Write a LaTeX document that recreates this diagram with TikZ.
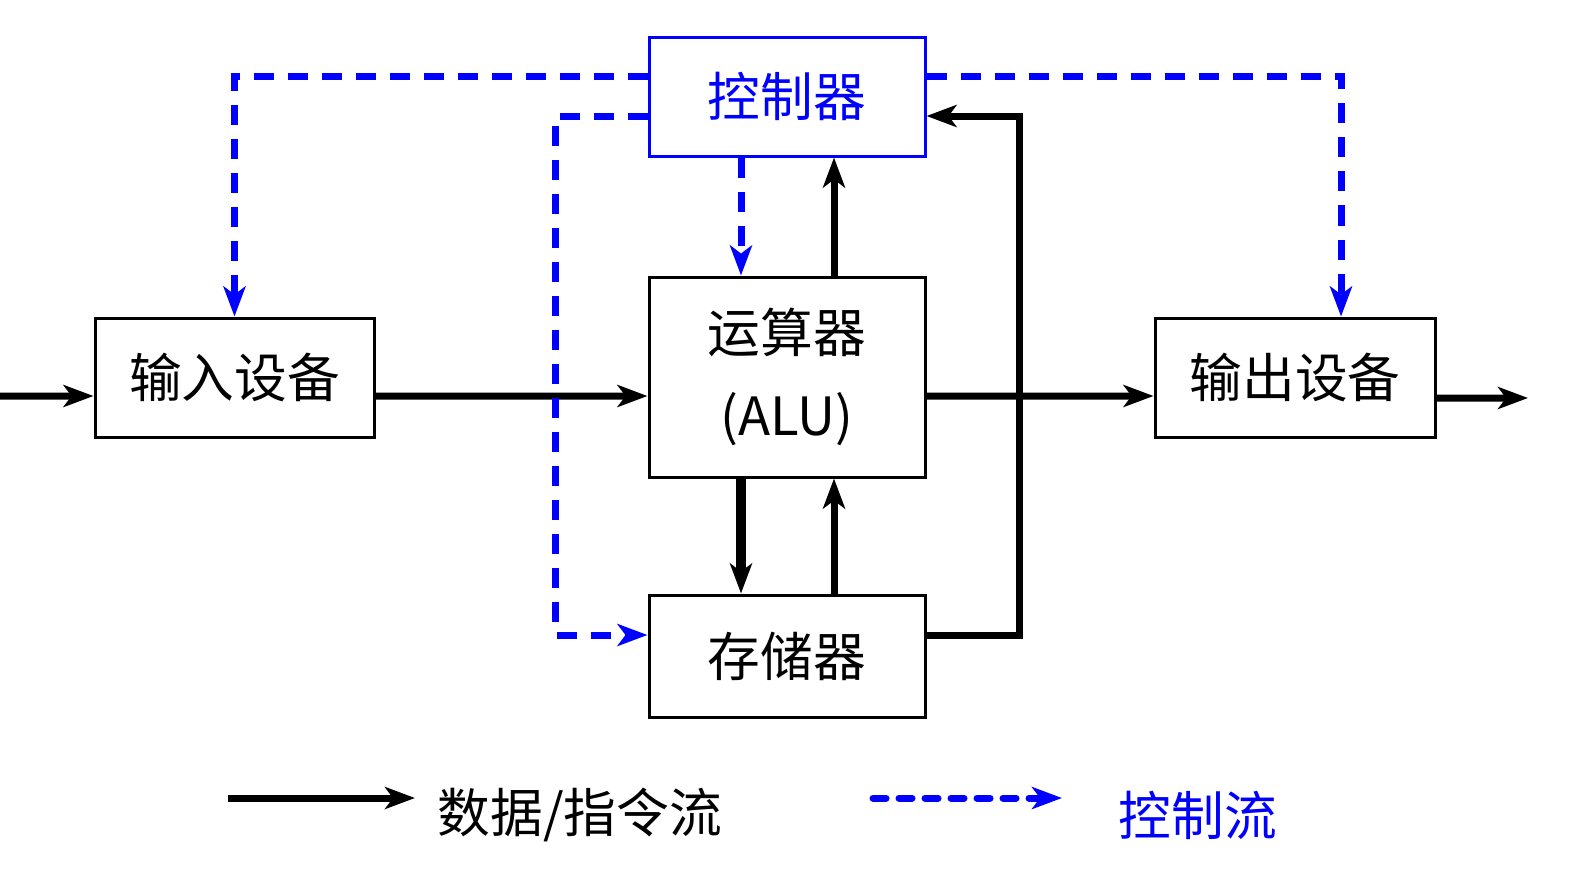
\documentclass[tikz,border=0pt]{standalone}
\usepackage{fontspec}
\setmainfont{Noto Sans CJK SC}
\usetikzlibrary{arrows.meta}
\tikzset{
    unit/.style={draw, line width=0.03cm, inner sep=0pt, minimum width=2.76cm, minimum height=1.19cm, font=\fontsize{15}{20}\selectfont},
    dataflow/.style={line width=0.07cm, -{Stealth[length=0.3cm, width=0.22cm, inset=0.08cm]}},
    ctrlflow/.style={blue, line width=0.07cm, dash pattern=on 0.2cm off 0.14cm, -{Stealth[length=0.3cm, width=0.22cm, inset=0.08cm]}},
}
\begin{document}
\begin{tikzpicture}
    \useasboundingbox (0,0) rectangle (15.74,-8.80);
    % 部件
    \node[unit, blue] (ctrl) at (7.87,-0.965) {控制器};
    \node[unit, minimum height=2.00cm, align=center] (alu) at (7.87,-3.77) {运算器\\[0.12cm](ALU)};
    \node[unit, minimum height=1.22cm] (mem) at (7.87,-6.56) {存储器};
    \node[unit, minimum width=2.79cm] (in) at (2.345,-3.775) {输入设备};
    \node[unit, minimum width=2.80cm] (out) at (12.95,-3.775) {输出设备};
    \coordinate (src) at (0,-3.96);
    \coordinate (dst) at (15.28,-3.98);

    % 数据/指令流
    \draw[dataflow] (src) -- ([yshift=-0.185cm]in.west);
    \draw[dataflow] ([yshift=-0.185cm]in.east) -- ([yshift=-0.19cm]alu.west);
    \draw[dataflow] ([yshift=-0.19cm]alu.east) -- ([yshift=-0.185cm]out.west);
    \draw[dataflow] ([yshift=-0.205cm]out.east) -- (dst);
    \draw[dataflow] ([xshift=0.47cm]alu.north) -- ([xshift=0.47cm]ctrl.south);
    \draw[dataflow, line width=0.1cm] ([xshift=-0.46cm]alu.south) -- ([xshift=-0.46cm]mem.north);
    \draw[dataflow] ([xshift=0.47cm]mem.north) -- ([xshift=0.47cm]alu.south);
    \draw[dataflow] ([yshift=0.21cm]mem.east) -- ++(0.93,0) |- ([yshift=-0.195cm]ctrl.east);

    % 控制流
    \draw[ctrlflow] ([yshift=0.205cm]ctrl.west) -| (in.north);
    \draw[ctrlflow] ([yshift=-0.195cm]ctrl.west) -- ++(-0.92,0) |- ([yshift=0.21cm]mem.west);
    \draw[ctrlflow] ([xshift=-0.46cm]ctrl.south) -- ([xshift=-0.46cm]alu.north);
    \draw[ctrlflow] ([yshift=0.205cm]ctrl.east) -| ([xshift=0.46cm]out.north);

    % 图例
    \coordinate (d1) at (2.28,-7.98);
    \coordinate (d2) at (4.15,-7.98);
    \coordinate (c1) at (8.73,-7.98);
    \coordinate (c2) at (10.62,-7.98);
    \draw[dataflow] (d1) -- (d2);
    \draw[ctrlflow, line cap=round, dash pattern=on 0.13cm off 0.13cm] (c1) -- (c2);
    \node[font=\fontsize{15}{20}\selectfont] (dlabel) at (5.80,-8.15) {数据/指令流};
    \node[blue, font=\fontsize{15}{20}\selectfont] (clabel) at (11.98,-8.15) {控制流};
\end{tikzpicture}
\end{document}
